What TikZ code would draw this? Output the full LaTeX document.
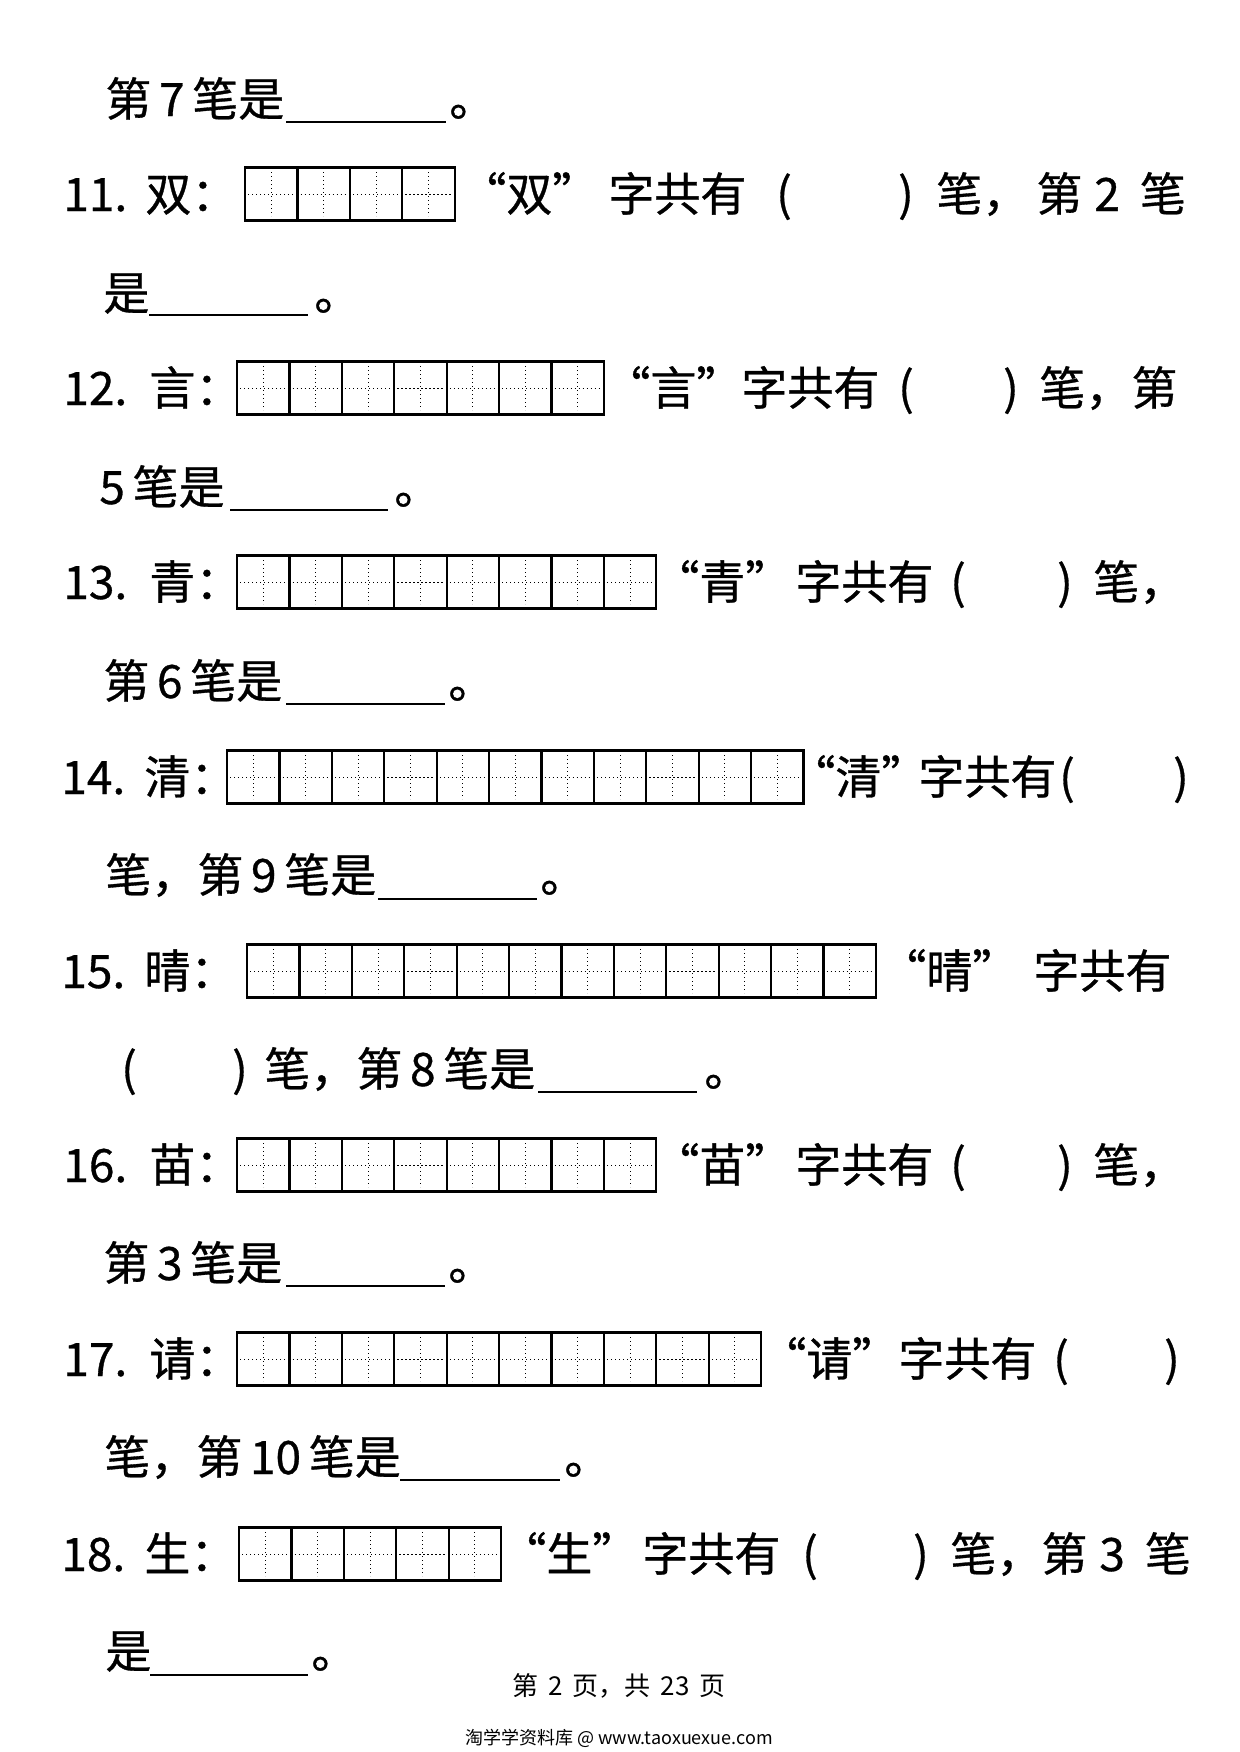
\documentclass[tikz,border=0pt]{standalone}
\usepackage{fontspec}
\setmainfont{Noto Sans CJK SC}
\newfontfamily\heavyfont{Noto Sans CJK SC}[FakeBold=0.7]
\usetikzlibrary{calc}

\tikzset{
  every node/.style={inner sep=0pt},
  word/.style={anchor=west, font=\heavyfont\fontsize{23}{23}\selectfont, text height=20pt, text depth=3pt},
  paren/.style={word, anchor=center},
  blank/.style={line width=1.4pt},
  frame/.style={line width=1.1pt},
  guide/.style={line width=0.5pt, dash pattern=on 0.6pt off 1.4pt},
}

\begin{document}
\begin{tikzpicture}[x=0.5pt, y=-0.5pt]
  \useasboundingbox (0,0) rectangle (1239,1752);

  % writing grids: left x / centre y / number of cells
  \foreach \gx/\gy/\gn in {245/194/4, 237/388/7, 237/582/8, 227/777/11, 247/971/12, 237/1165/8, 237/1359/10, 239/1554/5} {
    \foreach \i in {1,...,\gn} {
      \pgfmathsetmacro\lx{\gx + (\i - 1)*52.4}
      \pgfmathsetmacro\cx{\lx + 26.2}
      \draw[guide] (\cx, \gy - 22) -- (\cx, \gy + 22);
      \draw[guide] (\cx - 23, \gy) -- (\cx + 23, \gy);
      \draw[frame] (\lx, \gy - 26.5) rectangle ++(52.4, 53);
    }
  }

  % end of question 10
  \node[word] (t10) at (105,99) {第\,7\,笔是};
  \draw[blank] (286,122) -- (446,122);
  \node[word] (p10) at (449,99) {。};

  % 11
  \node[word] (n11) at (63,194) {11.};
  \node[word] (c11) at (145,194) {双：};
  \node[word] (q11) at (460,194) {“双”};
  \node[word] (z11) at (608,194) {字共有};
  \node[paren] (l11) at (784,194) {(};
  \node[paren] (r11) at (906,194) {)};
  \node[word] (b11) at (936,194) {笔，};
  \node[word] (s11) at (1036,194) {第\hspace{6pt}2\hspace{10pt}笔};
  \node[word] (t11) at (103,293) {是};
  \draw[blank] (149,315) -- (308,315);
  \node[word] (p11) at (314,293) {。};

  % 12
  \node[word] (n12) at (63,388) {12.};
  \node[word] (c12) at (149,388) {言：};
  \node[word] (q12) at (604,388) {“言”};
  \node[word] (z12) at (741,388) {字共有};
  \node[paren] (l12) at (906,388) {(};
  \node[paren] (r12) at (1011,388) {)};
  \node[word] (b12) at (1039,388) {笔，第};
  \node[word] (t12) at (99,487) {5\,笔是};
  \draw[blank] (230,510) -- (388,510);
  \node[word] (p12) at (394,487) {。};

  % 13
  \node[word] (n13) at (63,582) {13.};
  \node[word] (c13) at (149,582) {青：};
  \node[word] (q13) at (653,582) {“青”};
  \node[word] (z13) at (795,582) {字共有};
  \node[paren] (l13) at (958,582) {(};
  \node[paren] (r13) at (1065,582) {)};
  \node[word] (b13) at (1093,582) {笔，};
  \node[word] (t13) at (103,681) {第\,6\,笔是};
  \draw[blank] (286,704) -- (445,704);
  \node[word] (p13) at (448,681) {。};

  % 14
  \node[word] (n14) at (61,777) {14.};
  \node[word] (c14) at (144,777) {清：};
  \node[word] (q14) at (789,777) {“清”};
  \node[word] (z14) at (918,777) {字共有};
  \node[paren] (l14) at (1067,777) {(};
  \node[paren] (r14) at (1181,777) {)};
  \node[word] (t14) at (105,875) {笔，第\,9\,笔是};
  \draw[blank] (378,899) -- (537,899);
  \node[word] (p14) at (540,875) {。};

  % 15
  \node[word] (n15) at (61,971) {15.};
  \node[word] (c15) at (144,971) {晴：};
  \node[word] (q15) at (880,971) {“晴”};
  \node[word] (z15) at (1033,971) {字共有};
  \node[paren] (l15) at (129,1069) {(};
  \node[paren] (r15) at (240,1069) {)};
  \node[word] (t15) at (264,1069) {笔，第\,8\,笔是};
  \draw[blank] (538,1092) -- (697,1092);
  \node[word] (p15) at (704,1069) {。};

  % 16
  \node[word] (n16) at (63,1165) {16.};
  \node[word] (c16) at (149,1165) {苗：};
  \node[word] (q16) at (653,1165) {“苗”};
  \node[word] (z16) at (795,1165) {字共有};
  \node[paren] (l16) at (958,1165) {(};
  \node[paren] (r16) at (1065,1165) {)};
  \node[word] (b16) at (1093,1165) {笔，};
  \node[word] (t16) at (103,1263) {第\,3\,笔是};
  \draw[blank] (286,1286) -- (445,1286);
  \node[word] (p16) at (448,1263) {。};

  % 17
  \node[word] (n17) at (63,1359) {17.};
  \node[word] (c17) at (149,1359) {请：};
  \node[word] (q17) at (760,1359) {“请”};
  \node[word] (z17) at (898,1359) {字共有};
  \node[paren] (l17) at (1061,1359) {(};
  \node[paren] (r17) at (1172,1359) {)};
  \node[word] (t17) at (104,1457) {笔，第\,10\,笔是};
  \draw[blank] (400,1480) -- (560,1480);
  \node[word] (p17) at (564,1457) {。};

  % 18
  \node[word] (n18) at (61,1554) {18.};
  \node[word] (c18) at (144,1554) {生：};
  \node[word] (q18) at (500,1554) {“生”};
  \node[word] (z18) at (642,1554) {字共有};
  \node[paren] (l18) at (810,1554) {(};
  \node[paren] (r18) at (921,1554) {)};
  \node[word] (b18) at (950,1554) {笔，};
  \node[word] (s18) at (1041,1554) {第\hspace{6pt}3\hspace{10pt}笔};
  \node[word] (t18) at (105,1651) {是};
  \draw[blank] (150,1675) -- (308,1675);
  \node[word] (p18) at (311,1651) {。};

  % footer
  \node[font=\fontsize{13}{13}\selectfont] (page) at (619,1686) {第\hspace{5pt}2\hspace{5pt}页，共\hspace{5pt}23\hspace{5pt}页};
  \node[font=\fontsize{9}{9}\selectfont] (site) at (619,1738) {淘学学资料库 @ www.taoxuexue.com};
\end{tikzpicture}
\end{document}
